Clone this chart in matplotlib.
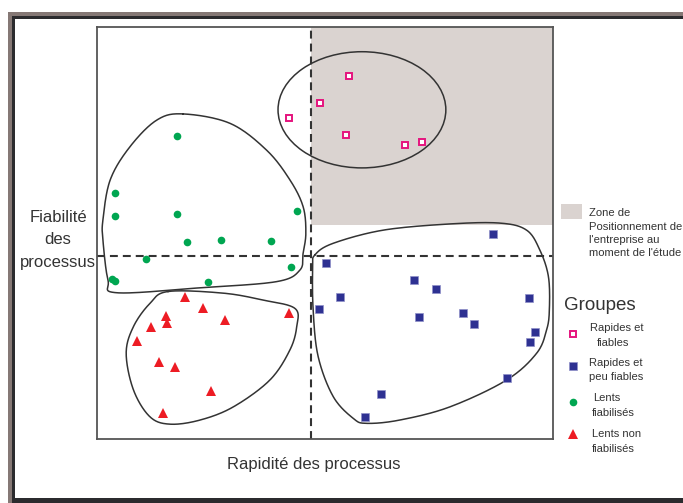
import numpy as np
import matplotlib
matplotlib.use("Agg")
import matplotlib.pyplot as plt
from matplotlib.patches import Rectangle, Ellipse
from matplotlib.lines import Line2D

plt.rcParams['font.family'] = ['Liberation Sans', 'DejaVu Sans']

# --- données (échelle 0-100 sur chaque axe) ---
rapides_fiables_x = [55.2, 48.9, 42.1, 54.6, 67.6, 71.3]
rapides_fiables_y = [88.1, 81.6, 78.0, 73.7, 71.4, 72.1]

rapides_peu_x = [86.8, 50.2, 69.5, 74.3, 53.3, 48.6, 94.7, 70.6, 80.3, 82.7, 96.1, 95.0, 89.9, 62.3, 58.8]
rapides_peu_y = [49.8, 42.6, 38.7, 36.4, 34.5, 31.5, 34.2, 29.5, 30.6, 27.9, 26.0, 23.6, 14.8, 10.9, 5.3]

lents_fiab_x = [17.5, 3.9, 3.9, 17.5, 43.8, 19.7, 27.3, 38.1, 10.7, 42.5, 3.2, 3.9, 24.4]
lents_fiab_y = [73.5, 59.7, 54.1, 54.6, 55.3, 47.9, 48.3, 48.1, 43.7, 41.7, 38.8, 38.4, 38.2]

lents_non_x = [19.2, 23.2, 15.1, 15.4, 11.8, 28.1, 42.0, 8.8, 13.5, 17.2, 24.9, 14.5]
lents_non_y = [34.5, 31.9, 29.9, 28.2, 27.1, 28.9, 30.5, 23.8, 18.7, 17.5, 11.7, 6.2]

seuil_rapidite = 46.9
seuil_fiabilite = 44.5
zone_y0 = 51.9

# contours des groupes
ell_centre, ell_w, ell_h = (58.1, 79.9), 36.8, 28.2
vert_cx = [18.9, 29.2, 37.2, 42.3, 45.2, 45.8, 45.2, 44.5, 39.4, 22.6, 4.3, 2.4, 1.3, 1.3, 2.9, 7.2, 13.1]
vert_cy = [78.9, 76.6, 70.1, 62.9, 56.4, 50.0, 45.1, 41.0, 38.2, 36.7, 35.5, 38.6, 48.3, 53.2, 62.9, 70.9, 77.4]
rouge_cx = [15.6, 27.7, 36.5, 43.4, 43.8, 42.3, 37.9, 29.9, 22.6, 16.0, 11.6, 8.0, 6.4, 8.0, 11.6]
rouge_cy = [35.8, 35.4, 33.7, 31.7, 27.3, 21.6, 14.3, 7.8, 4.6, 3.6, 5.4, 11.9, 20.8, 27.3, 32.9]
bleu_cx = [47.8, 51.8, 62.8, 77.4, 88.4, 94.2, 97.1, 99.0, 99.2, 98.6, 96.4, 89.8, 77.4, 66.4, 59.1, 56.2, 51.8, 48.5, 47.4, 47.3]
bleu_cy = [44.7, 47.5, 50.7, 52.2, 52.4, 50.7, 45.9, 39.4, 31.3, 26.5, 20.8, 14.3, 7.8, 4.6, 3.8, 5.0, 10.3, 20.0, 31.3, 41.8]

zone_lignes = ["Zone de", "Positionnement de", "l'entreprise au", "moment de l'étude"]
groupes_lignes = [("Rapides et", "fiables"), ("Rapides et", "peu fiables"),
                  ("Lents", "fiabilisés"), ("Lents non", "fiabilisés")]

ROSE = '#e5147e'
BLEU = '#2e3192'
VERT = '#00a651'
ROUGE = '#ed1c24'
GRIS_ZONE = '#dad3d0'
TRAIT = '#333333'


def smooth_closed(xs, ys, n=24):
    # spline de Catmull-Rom fermée
    pts = np.column_stack([xs, ys])
    m = len(pts)
    t = np.linspace(0, 1, n, endpoint=False)[:, None]
    segs = []
    for i in range(m):
        p0, p1, p2, p3 = pts[i - 1], pts[i], pts[(i + 1) % m], pts[(i + 2) % m]
        segs.append(0.5 * (2 * p1 + (-p0 + p2) * t + (2 * p0 - 5 * p1 + 4 * p2 - p3) * t ** 2
                           + (-p0 + 3 * p1 - 3 * p2 + p3) * t ** 3))
    out = np.vstack(segs + [segs[0][:1]])
    return out[:, 0], out[:, 1]


W, H = 683, 503
fig = plt.figure(figsize=(W / 100, H / 100), dpi=100)


def fpx(x, y):
    return x / W, 1 - y / H


# cadre
fig.add_artist(Rectangle(fpx(8, 510), (720 - 8) / W, (510 - 12) / H, transform=fig.transFigure,
                         facecolor='#857875', edgecolor='none', zorder=0))
fig.add_artist(Rectangle(fpx(12, 510), (720 - 12) / W, (510 - 16) / H, transform=fig.transFigure,
                         facecolor='#2b2b2e', edgecolor='none', zorder=0))
fig.add_artist(Rectangle(fpx(15, 498), (720 - 15) / W, (498 - 19) / H, transform=fig.transFigure,
                         facecolor='white', edgecolor='none', zorder=0))

ax = fig.add_axes([97 / W, 1 - 439 / H, 456 / W, 412 / H])
ax.set_xlim(0, 100)
ax.set_ylim(0, 100)
ax.set_xticks([])
ax.set_yticks([])
for s in ax.spines.values():
    s.set_color('#555555')
    s.set_linewidth(1.3)

ax.add_patch(Rectangle((seuil_rapidite, zone_y0), 100 - seuil_rapidite, 100 - zone_y0,
                       facecolor=GRIS_ZONE, edgecolor='none', zorder=1))
ax.axvline(seuil_rapidite, color=TRAIT, lw=1.5, ls=(0, (3.8, 2.4)), zorder=2)
ax.axhline(seuil_fiabilite, color=TRAIT, lw=1.5, ls=(0, (3.8, 2.4)), zorder=2)

ax.add_patch(Ellipse(ell_centre, ell_w, ell_h, fill=False, edgecolor=TRAIT, lw=1.1, zorder=3))
for cx, cy in [(vert_cx, vert_cy), (rouge_cx, rouge_cy), (bleu_cx, bleu_cy)]:
    sx, sy = smooth_closed(cx, cy)
    ax.plot(sx, sy, color=TRAIT, lw=1.1, zorder=3)

styles = [
    dict(marker='s', ms=5, mfc='white', mec=ROSE, mew=1.4),
    dict(marker='s', ms=5.5, color=BLEU, mec='#8f90c8', mew=0.5),
    dict(marker='o', ms=5.5, color=VERT, mew=0),
    dict(marker='^', ms=7, color=ROUGE, mew=0),
]
series = [(rapides_fiables_x, rapides_fiables_y), (rapides_peu_x, rapides_peu_y),
          (lents_fiab_x, lents_fiab_y), (lents_non_x, lents_non_y)]
for (xs, ys), st in zip(series, styles):
    ax.plot(xs, ys, ls='none', zorder=4, **st)

ax.set_xlabel('Rapidité des processus', fontsize=12, color=TRAIT, va='center')
ax.xaxis.set_label_coords((313.6 - 97) / 456, (439 - 465) / 412)
ax.set_ylabel('Fiabilité\ndes\nprocessus', fontsize=12, color=TRAIT, rotation=0,
              ha='center', va='center', linespacing=1.6)
ax.yaxis.set_label_coords((58 - 97) / 456, (439 - 240) / 412)

# légende de la zone
fig.add_artist(Rectangle(fpx(561, 219), 21 / W, 15 / H, transform=fig.transFigure,
                         facecolor=GRIS_ZONE, edgecolor='none'))
for i, ligne in enumerate(zone_lignes):
    fig.text(*fpx(589, 213.3 + 13.3 * i), ligne, fontsize=8.1, color=TRAIT,
             ha='left', va='center')

# légende des groupes
fig.text(*fpx(564, 305), 'Groupes', fontsize=13.5, color=TRAIT, ha='left', va='center')
marker_y = [334, 365.7, 401.7, 434.3]
line1_y = [328.3, 363.3, 398.3, 434.3]
line_x = [(590, 596.7), (589, 589), (593.3, 591.7), (591.7, 591.7)]
for st, my, ly, (x1, x2), (l1, l2) in zip(styles, marker_y, line1_y, line_x, groupes_lignes):
    fig.add_artist(Line2D([573.3 / W], [1 - my / H], transform=fig.transFigure, ls='none', **st))
    fig.text(*fpx(x1, ly), l1, fontsize=8, color=TRAIT, ha='left', va='center')
    fig.text(*fpx(x2, ly + 14.2), l2, fontsize=8, color=TRAIT, ha='left', va='center')

fig.savefig('out.png', dpi=100)
